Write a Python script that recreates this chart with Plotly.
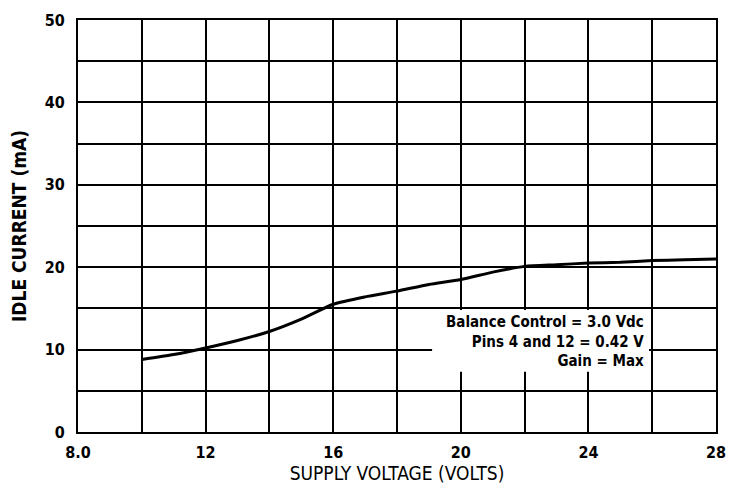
import plotly.graph_objects as go

# Data
supply_voltage = [10, 11, 12, 13, 14, 15, 16, 17, 18, 19, 20, 21, 22, 23, 24, 25, 26, 27, 28]
idle_current = [8.8, 9.4, 10.2, 11.1, 12.2, 13.7, 15.5, 16.4, 17.1, 17.9, 18.5, 19.4, 20.1, 20.3, 20.5, 20.6, 20.8, 20.9, 21.0]

x_grid = [8, 10, 12, 14, 16, 18, 20, 22, 24, 26, 28]
x_labels = ["8.0", "", "12", "", "16", "", "20", "", "24", "", "28"]
y_grid = [0, 5, 10, 15, 20, 25, 30, 35, 40, 45, 50]
y_labels = ["0", "", "10", "", "20", "", "30", "", "40", "", "50"]

note_lines = ["Balance Control = 3.0 Vdc", "Pins 4 and 12 = 0.42 V", "Gain = Max"]

FONT = "DejaVu Sans Condensed, DejaVu Sans, sans-serif"

fig = go.Figure()
fig.add_trace(go.Scatter(
    x=supply_voltage, y=idle_current, mode="lines",
    line=dict(color="black", width=3, shape="spline", smoothing=0.6),
    showlegend=False, hoverinfo="skip",
))

# white box behind the note
fig.add_shape(type="rect", xref="x", yref="y", x0=19.1, x1=25.9, y0=7.3, y1=14.8,
              fillcolor="white", line=dict(width=0), layer="above")
fig.add_annotation(
    xref="x", yref="y", x=25.8, y=11.0, xanchor="right", yanchor="middle",
    text="<br>".join(note_lines), align="right", showarrow=False,
    font=dict(family=FONT, size=15, color="black", weight="bold"),
)

axis_common = dict(
    showgrid=True, gridcolor="black", gridwidth=2,
    showline=True, linecolor="black", linewidth=2, mirror=True,
    zeroline=False, ticks="", tickmode="array", automargin=False,
    tickfont=dict(family=FONT, size=16, color="black", weight="bold"),
)

fig.update_xaxes(range=[8, 28], tickvals=x_grid, ticktext=x_labels, ticklabelstandoff=5,
                 title=dict(text="SUPPLY VOLTAGE (VOLTS)", standoff=2,
                            font=dict(family=FONT, size=19, color="black")),
                 **axis_common)
fig.update_yaxes(range=[0, 50], tickvals=y_grid, ticktext=y_labels, ticklabelstandoff=8,
                 title=dict(text="IDLE CURRENT (mA)", standoff=20,
                            font=dict(family=FONT, size=19, color="black", weight="bold")),
                 **axis_common)

# page body has an 8px margin, so the figure is sized to fit the window
fig.update_layout(
    width=735, height=478,
    margin=dict(l=70, r=27, t=12, b=54),
    paper_bgcolor="white", plot_bgcolor="white",
)

fig.write_html("out.html")
